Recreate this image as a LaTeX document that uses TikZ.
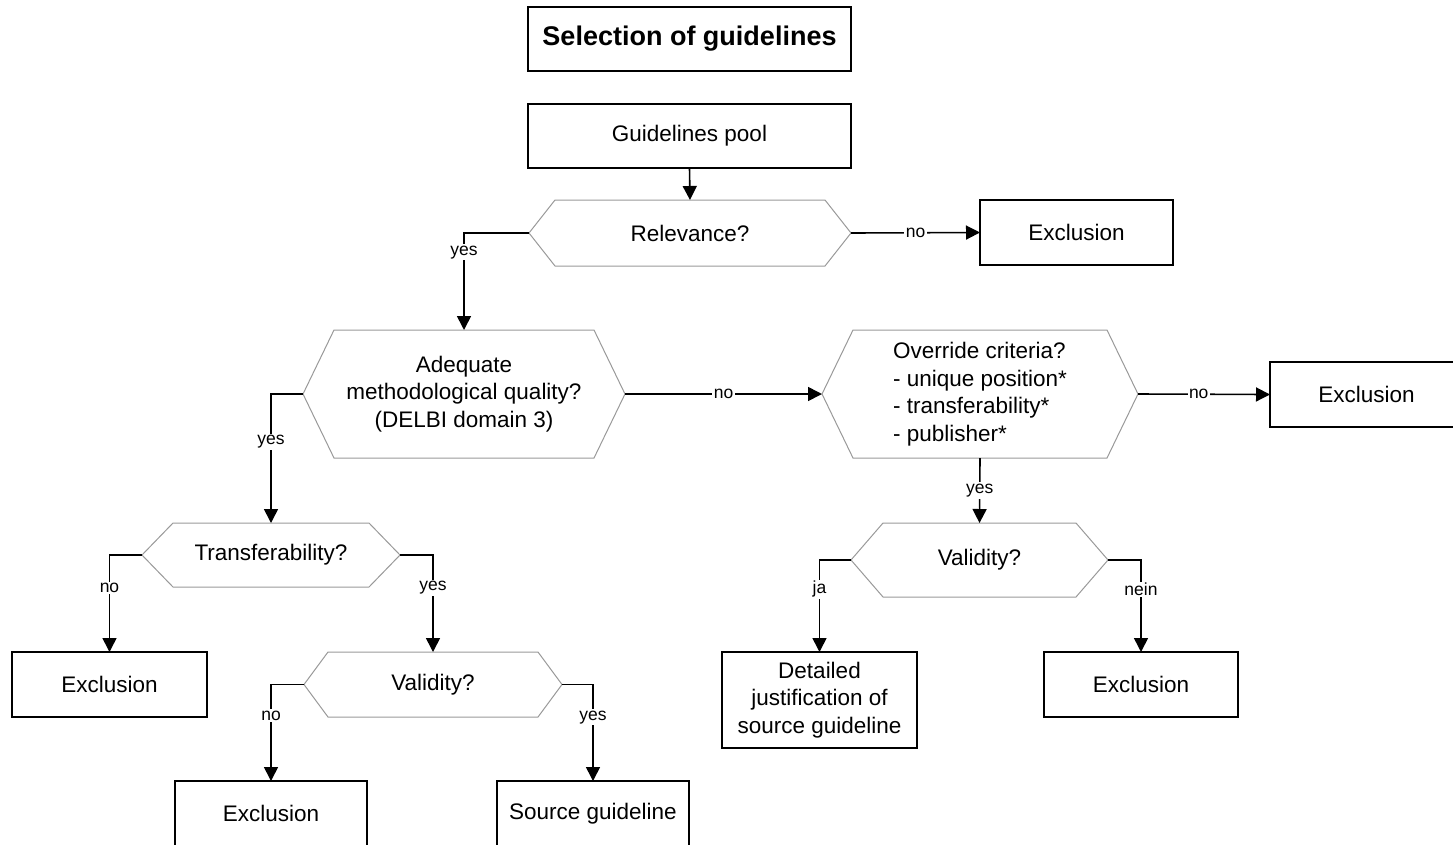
\documentclass[tikz,border=0pt]{standalone}
\usepackage{fontspec}
\setmainfont{Liberation Sans}
\usetikzlibrary{arrows.meta,calc}
\tikzset{
  boxnode/.style={draw, line width=1.6pt, inner sep=0pt, outer sep=0pt, align=center,
    font=\fontsize{22.5}{27.5}\selectfont},
  hexnode/.style={inner sep=0pt, outer sep=0pt, align=center,
    font=\fontsize{22.5}{27.5}\selectfont},
  hexline/.style={draw=black!40, line width=1pt, line join=miter},
  conn/.style={line width=1.6pt},
  arr/.style={conn, -{Triangle[length=14pt,width=14pt]}},
  lab/.style={fill=white, inner sep=1.5pt, font=\fontsize{17.5}{20}\selectfont}
}
\newcommand\hexdraw[2]{\draw[hexline] (#1.west) -- ($(#1.north west)+(#2,0)$) -- ($(#1.north east)+(-#2,0)$) -- (#1.east) -- ($(#1.south east)+(-#2,0)$) -- ($(#1.south west)+(#2,0)$) -- cycle;}
\begin{document}
\begin{tikzpicture}[x=1pt,y=-1pt]
\useasboundingbox (0,0) rectangle (1453,844);
% boxes
\node[boxnode, minimum width=323pt, minimum height=64pt, font=\fontsize{27}{32}\selectfont\bfseries] (title) at (689.5,39) {Selection of guidelines};
\node[boxnode, minimum width=323pt, minimum height=64pt] (pool) at (689.5,136) {Guidelines pool};
\node[boxnode, minimum width=193pt, minimum height=65pt] (ex1) at (1076.5,232.5) {Exclusion};
\node[boxnode, minimum width=193pt, minimum height=65pt] (ex2) at (1366.5,394.5) {Exclusion};
\node[boxnode, minimum width=195pt, minimum height=96pt] (det) at (819.5,700) {Detailed\\justification of\\source guideline};
\node[boxnode, minimum width=194pt, minimum height=65pt] (ex3) at (1141,684.5) {Exclusion};
\node[boxnode, minimum width=195pt, minimum height=65pt] (ex4) at (109.5,684.5) {Exclusion};
\node[boxnode, minimum width=192pt, minimum height=65pt] (ex5) at (271,813.5) {Exclusion};
\node[boxnode, minimum width=192pt, minimum height=65pt] (src) at (593,813.5) {Source guideline};
% hexagons
\node[hexnode, minimum width=322pt, minimum height=66pt] (rel) at (690,233) {Relevance?};
\hexdraw{rel}{26}
\node[hexnode, minimum width=322pt, minimum height=128pt] (adq) at (464,394) {Adequate\\methodological quality?\\(DELBI domain 3)};
\hexdraw{adq}{31}
\node[hexnode, minimum width=316pt, minimum height=128pt, align=left] (ovr) at (980,394) {Override criteria?\\- unique position*\\- transferability*\\- publisher*};
\hexdraw{ovr}{31}
\node[hexnode, minimum width=257pt, minimum height=74pt] (val2) at (979.5,560) {Validity?};
\hexdraw{val2}{32}
\node[hexnode, minimum width=258pt, minimum height=64pt] (tra) at (271,555) {Transferability?};
\hexdraw{tra}{31}
\node[hexnode, minimum width=258pt, minimum height=65pt] (val1) at (433,684.5) {Validity?};
\hexdraw{val1}{24}
% connectors
\draw[arr] (pool.south) -- (rel.north);
\draw[arr] (rel.east) -- node[lab]{no} (ex1.west);
\draw[arr] (rel.west) -| node[lab, pos=0.6]{yes} (adq.north);
\draw[arr] (adq.east) -- node[lab]{no} (ovr.west);
\draw[arr] (ovr.east) -- node[lab, pos=0.46]{no} (ex2.west);
\draw[arr] (ovr.south) -- node[lab]{yes} (val2.north);
\draw[arr] (val2.west) -| node[lab, pos=0.66]{ja} (det.north);
\draw[arr] (val2.east) -| node[lab, pos=0.66]{nein} (ex3.north);
\draw[arr] (adq.west) -| node[lab, pos=0.685]{yes} (tra.north);
\draw[arr] (tra.west) -| node[lab, pos=0.67]{no} (ex4.north);
\draw[arr] (tra.east) -| node[lab, pos=0.67]{yes} (val1.north);
\draw[arr] (val1.west) -| node[lab, pos=0.66]{no} (ex5.north);
\draw[arr] (val1.east) -| node[lab, pos=0.67]{yes} (src.north);
\end{tikzpicture}
\end{document}
